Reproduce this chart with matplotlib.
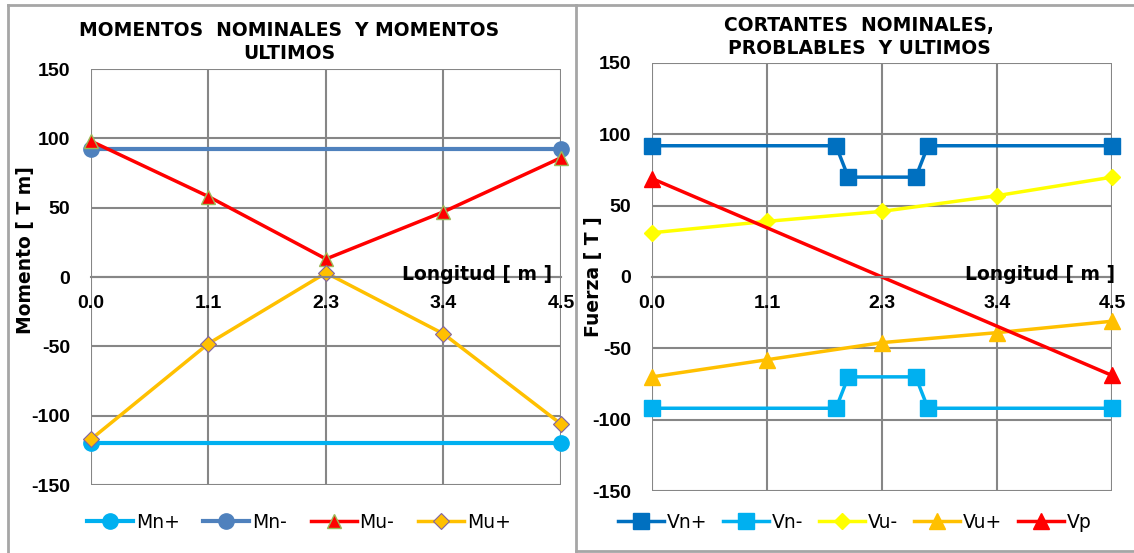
import matplotlib.pyplot as plt
from matplotlib.lines import Line2D

plt.rcParams['font.family'] = ['Liberation Sans', 'DejaVu Sans']
plt.rcParams['axes.unicode_minus'] = False

# longitud de la viga [m]
x_span = [0.0, 1.125, 2.25, 3.375, 4.5]
x_ends = [0.0, 4.5]
x_ticks = [0.0, 1.125, 2.25, 3.375, 4.5]
x_tick_labels = ['0.0', '1.1', '2.3', '3.4', '4.5']
y_ticks = [-150, -100, -50, 0, 50, 100, 150]

# momentos [T m]
mn_pos = [-120, -120]
mn_neg = [92, 92]
mu_neg = [98, 58, 13, 47, 86]
mu_pos = [-117, -48, 3, -41, -106]

# cortantes [T]
x_vn = [0.0, 1.8, 1.92, 2.58, 2.7, 4.5]
vn_pos = [92, 92, 70, 70, 92, 92]
vn_neg = [-92, -92, -70, -70, -92, -92]
vu_neg = [31, 39, 46, 57, 70]
vu_pos = [-70, -58, -46, -39, -31]
vp = [69, -69]

W, H = 1134, 553
fig = plt.figure(figsize=(W / 100, H / 100), dpi=100)
BOLD = dict(family='DejaVu Sans', fontweight='bold', fontsize=13.5)


def px(x0, y0, x1, y1):
    return [x0 / W, 1 - y1 / H, (x1 - x0) / W, (y1 - y0) / H]


def setup(ax, ylabel, label_xy, long_x):
    ax.set_xlim(0, 4.5)
    ax.set_ylim(-150, 150)
    ax.set_xticks(x_ticks)
    ax.set_xticklabels(x_tick_labels)
    ax.set_yticks(y_ticks)
    for s in ['left', 'right', 'top']:
        ax.spines[s].set_visible(False)
    ax.spines['bottom'].set_position(('data', 0))
    ax.spines['bottom'].set_color('#868686')
    ax.spines['bottom'].set_linewidth(1.5)
    ax.grid(True, color='#868686', linewidth=1.5)
    ax.set_axisbelow(True)
    ax.tick_params(axis='x', length=0, pad=13, labelsize=14)
    ax.tick_params(axis='y', length=0, pad=15, labelsize=14)
    for lab in ax.get_xticklabels() + ax.get_yticklabels():
        lab.set_fontweight('bold')
    ax.set_ylabel(ylabel, **BOLD)
    ax.yaxis.set_label_coords(*label_xy)
    ax.text(long_x, -2, 'Longitud [ m ]', transform=ax.get_yaxis_transform(),
            ha='right', va='baseline', **BOLD)


def legend(ax, x0, spacing):
    ax.legend(loc='center left', bbox_to_anchor=(x0 / W, 1 - 522 / H),
              bbox_transform=fig.transFigure, ncol=5, frameon=False,
              prop=dict(family='DejaVu Sans', size=13.5), handlelength=2.45,
              handletextpad=0.15, columnspacing=spacing, borderpad=0,
              borderaxespad=0)


# panel izquierdo: momentos
ax1 = fig.add_axes(px(91, 69, 561, 485))
setup(ax1, 'Momento [ T m]', ((35 - 91) / 470, (485 - 250) / 416),
      (552 - 91) / 470)
ax1.plot(x_ends, mn_pos, color='#00B0F0', lw=3, marker='o', ms=11,
         clip_on=False, label='Mn+')
ax1.plot(x_ends, mn_neg, color='#4F81BD', lw=3, marker='o', ms=11,
         clip_on=False, label='Mn-')
ax1.plot(x_span, mu_neg, color='#FF0000', lw=2.5, marker='^', ms=10,
         mfc='#FF0000', mec='#9BBB59', clip_on=False, label='Mu-')
ax1.plot(x_span, mu_pos, color='#FFC000', lw=2.5, marker='D', ms=8,
         mfc='#FFC000', mec='#8064A2', mew=0.8, clip_on=False, label='Mu+')
legend(ax1, 87, 1.27)

# panel derecho: cortantes
ax2 = fig.add_axes(px(652, 63, 1112, 491))
setup(ax2, 'Fuerza [ T ]', ((603 - 652) / 460, (491 - 277) / 428),
      (1115 - 652) / 460)
ax2.plot(x_vn, vn_pos, color='#0070C0', lw=2.5, marker='s', ms=11,
         clip_on=False, label='Vn+')
ax2.plot(x_vn, vn_neg, color='#00B0F0', lw=2.5, marker='s', ms=11,
         clip_on=False, label='Vn-')
ax2.plot(x_span, vu_neg, color='#FFFF00', lw=2.5, marker='D', ms=8,
         clip_on=False, label='Vu-')
ax2.plot(x_span, vu_pos, color='#FFC000', lw=2.5, marker='^', ms=12,
         clip_on=False, label='Vu+')
ax2.plot(x_ends, vp, color='#FF0000', lw=2.5, marker='^', ms=12,
         clip_on=False, label='Vp')
legend(ax2, 618, 0.85)

# titulos
fig.text(289 / W, 1 - 42 / H, 'MOMENTOS  NOMINALES  Y MOMENTOS\nULTIMOS',
         ha='center', va='center', linespacing=1.3, **BOLD)
fig.text(859 / W, 1 - 37 / H, 'CORTANTES  NOMINALES,\nPROBLABLES  Y ULTIMOS',
         ha='center', va='center', linespacing=1.3, **BOLD)

# marcos de los graficos
frame = dict(color='#A6A6A6', lw=2, transform=fig.transFigure)
fig.add_artist(Line2D([8 / W, 1], [1 - 5 / H, 1 - 5 / H], **frame))
fig.add_artist(Line2D([8 / W, 8 / W], [1 - 5 / H, 0], **frame))
fig.add_artist(Line2D([576 / W, 576 / W], [1 - 5 / H, 1 - 551 / H], **frame))
fig.add_artist(Line2D([576 / W, 1], [1 - 551 / H, 1 - 551 / H], **frame))

fig.savefig('out.png', dpi=100)
